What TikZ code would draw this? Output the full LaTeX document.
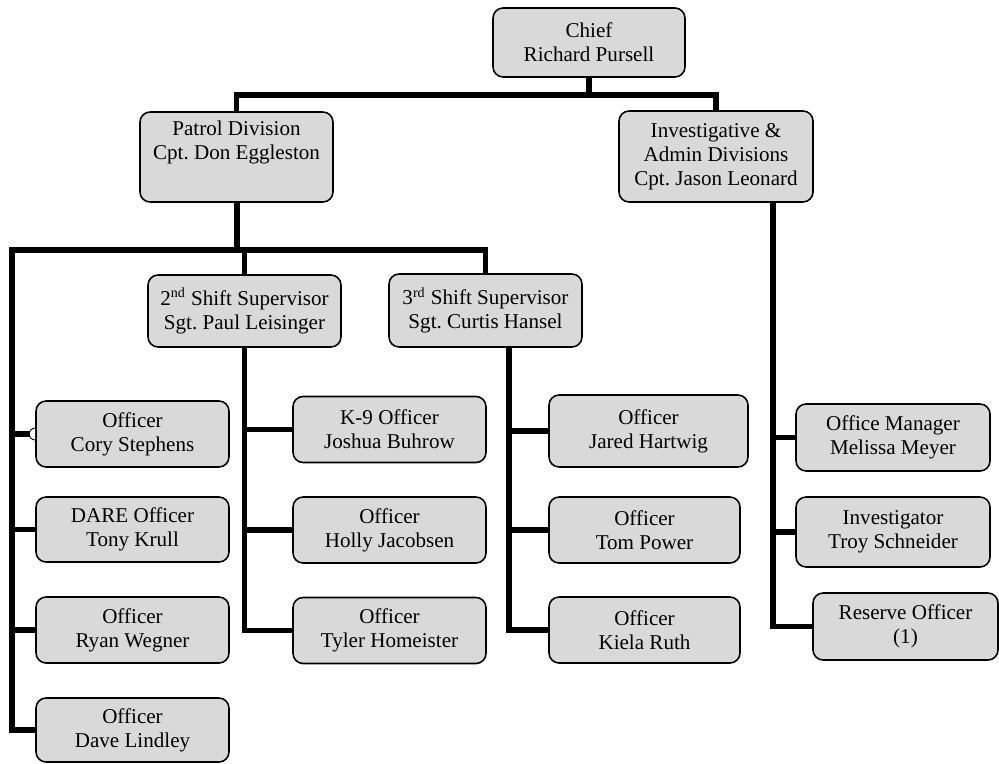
\documentclass[tikz,border=0pt]{standalone}
\usepackage{fontspec}
\setmainfont{Liberation Serif}
\usetikzlibrary{positioning}
\frenchspacing

\tikzset{
  box/.style={draw, line width=0.9pt, rounded corners=0.2cm, fill=black!15,
    align=center, inner sep=0pt, font=\fontsize{12}{13.6}\selectfont},
  officer/.style={box, minimum width=3.86cm, minimum height=1.32cm},
  link/.style={line width=3pt},
}

\begin{document}
\begin{tikzpicture}[x=0.02cm, y=-0.02cm]
\useasboundingbox (0,0) rectangle (999,763);

% Top level
\node[box, minimum width=3.84cm, minimum height=1.38cm] (chief) at (589,42.5) {Chief\\Richard Pursell};
\node[box, minimum width=3.86cm, minimum height=1.8cm] (patrol) at (236.5,157) {Patrol Division\\Cpt. Don Eggleston\\\rule{0pt}{16pt}};
\node[box, minimum width=3.88cm, minimum height=1.82cm] (invest) at (716,156.5) {Investigative \&\\Admin Divisions\\Cpt. Jason Leonard};

% Shift supervisors
\node[box, minimum width=3.86cm, minimum height=1.44cm] (shift2) at (244.5,311) {2\textsuperscript{nd} Shift Supervisor\\Sgt. Paul Leisinger};
\node[box, minimum width=3.86cm, minimum height=1.46cm] (shift3) at (485.5,310.5) {3\textsuperscript{rd} Shift Supervisor\\Sgt. Curtis Hansel};

% Patrol officers (left column)
\node[officer] (cory) at (132.5,434) {Officer\\Cory Stephens};
\node[officer, minimum height=1.3cm] (dare) at (132.5,529.5) {DARE Officer\\Tony Krull};
\node[officer] (ryan) at (132.5,630) {Officer\\Ryan Wegner};
\node[officer, minimum height=1.28cm] (dave) at (132.5,730) {Officer\\Dave Lindley};

% 2nd shift officers
\node[officer] (k9) at (389.5,429.5) {K-9 Officer\\Joshua Buhrow};
\node[officer] (holly) at (389.5,530) {Officer\\Holly Jacobsen};
\node[officer] (tyler) at (389.5,630.5) {Officer\\Tyler Homeister};

% 3rd shift officers
\node[officer, minimum width=3.98cm, minimum height=1.44cm] (jared) at (648.5,431) {Officer\\Jared Hartwig};
\node[officer, minimum width=3.82cm] (tom) at (644.5,530) {Officer\\Tom Power};
\node[officer, minimum width=3.82cm] (kiela) at (644.5,630) {Officer\\Kiela Ruth};

% Investigative & admin staff
\node[officer, minimum width=3.88cm, minimum height=1.34cm] (manager) at (893,437.5) {Office Manager\\Melissa Meyer};
\node[officer, minimum width=3.88cm, minimum height=1.4cm] (investigator) at (893,532) {Investigator\\Troy Schneider};
\node[officer, minimum width=3.7cm, minimum height=1.34cm] (reserve) at (905.5,626.5) {Reserve Officer\\(1)};

% Chief to divisions
\coordinate (topbus) at (589,95);
\draw[link] (chief.south) -- (topbus);
\draw[link] (patrol.north) |- (topbus) -| (invest.north);

% Patrol division to shifts and left column
\coordinate (patbus) at (237,250);
\coordinate (leftbus) at (12,250);
\draw[link] (patrol.south -| patbus) -- (patbus);
\draw[link] (dave.west) -| (leftbus) -| (shift3.north);
\draw[link] (shift2.north) -- (shift2.north |- patbus);
\foreach \n in {cory,dare,ryan}
  \draw[link] (\n.west -| leftbus) -- (\n.west);
\draw[line width=0.5pt, fill=white] ([yshift=0.12cm]cory.west) arc[start angle=90, end angle=270, radius=0.12cm];

% 2nd shift branch
\draw[link] (shift2.south) |- (tyler.west);
\foreach \n in {k9,holly}
  \draw[link] (\n.west -| shift2.south) -- (\n.west);

% 3rd shift branch
\coordinate (s3x) at (509,0);
\draw[link] (shift3.south -| s3x) |- (kiela.west);
\foreach \n in {jared,tom}
  \draw[link] (\n.west -| s3x) -- (\n.west);

% Investigative branch
\coordinate (invx) at (773,0);
\draw[link] (invest.south -| invx) |- (reserve.west);
\foreach \n in {manager,investigator}
  \draw[link] (\n.west -| invx) -- (\n.west);

\end{tikzpicture}
\end{document}
